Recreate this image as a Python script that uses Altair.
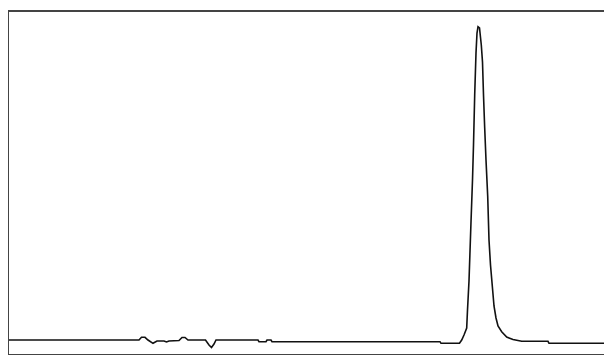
import altair as alt
import pandas as pd

# retention position (arbitrary units) and detector signal (arbitrary units)
time = [0, 130, 132.5, 136, 139, 144, 148, 155, 157.5, 160, 170, 173, 176, 179,
        196.5, 200, 202.5, 205, 207, 249, 250, 257, 258, 262, 263, 431, 432,
        450.5, 452.7, 455, 457.7, 458.5, 460, 462, 463.5, 464.5, 465.7, 467, 468,
        469, 470.5, 472.3, 473.5, 474.5, 475.7, 477, 478.7, 480, 481.5, 483.3,
        485, 487, 489, 492.7, 497.7, 504, 512.7, 539, 540, 595]
signal = [21, 21, 23.7, 23.7, 21, 17.7, 20, 20, 19, 20, 20.5, 23.5, 23.5, 21,
          21, 16, 13.5, 17, 21, 21, 19.3, 19.3, 21, 21, 19.3, 19.3, 17.7,
          17.7, 21, 26, 33, 51, 80, 139, 181, 216, 266, 308, 328,
          334.3, 333, 316, 299, 266, 233, 201, 165, 121, 96, 75,
          55, 43, 35, 29.3, 24, 21.5, 19.7, 19.7, 17.7, 17.7]

W, H = 596, 344

df = pd.DataFrame({"t": time, "s": signal})
one = pd.DataFrame({"k": [0]})

line = (
    alt.Chart(df)
    .mark_line(color="#111111", strokeWidth=1.6, interpolate="linear")
    .encode(
        x=alt.X("t:Q", axis=None, scale=alt.Scale(domain=[-1, 595], nice=False, zero=False)),
        y=alt.Y("s:Q", axis=None, scale=alt.Scale(domain=[6, 350], nice=False, zero=False)),
    )
)

frame_color = "#444444"
left = alt.Chart(one).mark_rule(color=frame_color, strokeWidth=2).encode(
    x=alt.value(0), y=alt.value(0), y2=alt.value(H)
)
top = alt.Chart(one).mark_rule(color=frame_color, strokeWidth=2).encode(
    y=alt.value(0), x=alt.value(0), x2=alt.value(W)
)
bottom = alt.Chart(one).mark_rule(color=frame_color, strokeWidth=2).encode(
    y=alt.value(H), x=alt.value(0), x2=alt.value(W)
)

chart = (
    alt.layer(line, left, top, bottom)
    .properties(
        width=W,
        height=H,
        autosize=alt.AutoSizeParams(type="none"),
        padding={"left": 0, "top": 3, "right": 0, "bottom": 0},
    )
    .configure(background="white")
    .configure_view(strokeWidth=0)
)

chart.save("out.html", embed_options={"renderer": "svg", "actions": False})
